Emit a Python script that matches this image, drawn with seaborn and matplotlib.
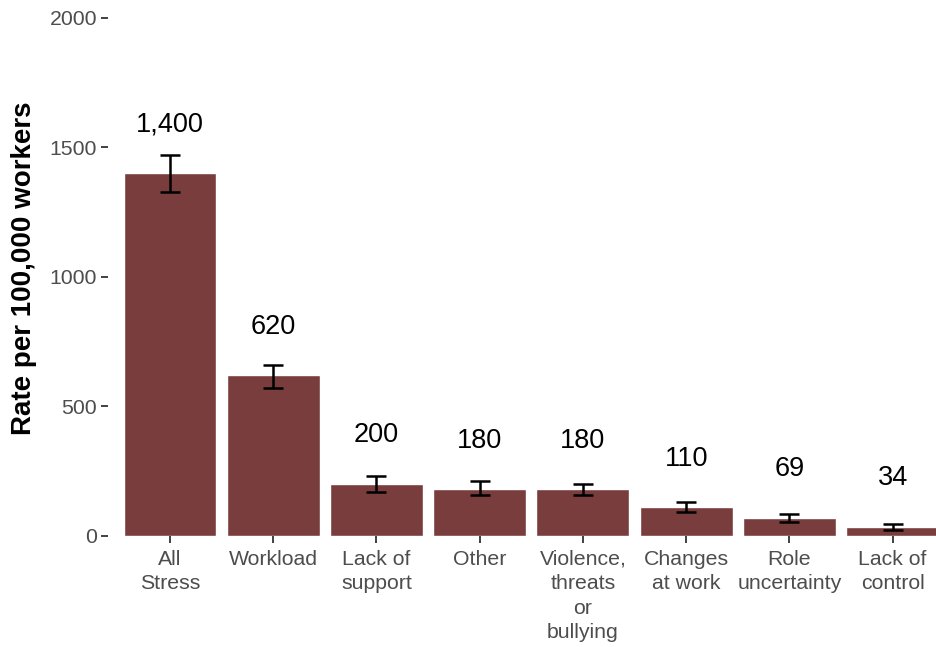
import numpy as np
import pandas as pd
import matplotlib
matplotlib.use("Agg")
import matplotlib.pyplot as plt
import seaborn as sns

categories = ["All\nStress", "Workload", "Lack of\nsupport", "Other",
              "Violence,\nthreats\nor\nbullying", "Changes\nat work",
              "Role\nuncertainty", "Lack of\ncontrol"]
rates = [1400, 620, 200, 180, 180, 110, 69, 34]
lower = [1328, 571, 170, 158, 158, 93, 54, 23]
upper = [1471, 660, 232, 212, 201, 131, 85, 46]
rate_labels = ["1,400", "620", "200", "180", "180", "110", "69", "34"]

df = pd.DataFrame({"cause": categories, "rate": rates,
                   "lo": lower, "hi": upper, "label": rate_labels})

sns.set_style("white")
plt.rcParams['font.family'] = ['Liberation Sans', 'DejaVu Sans']

fig = plt.figure(figsize=(9.36, 6.47), dpi=100)
ax = fig.add_axes([0.1154, 0.1716, 0.8846, 0.8284])

sns.barplot(data=df, x="cause", y="rate", color="#793d3d", saturation=1,
            width=0.9, errorbar=None, ax=ax)

pos = np.arange(len(df))
ax.errorbar(pos, df["rate"],
            yerr=[df["rate"] - df["lo"], df["hi"] - df["rate"]],
            fmt="none", ecolor="black", elinewidth=1.8, capsize=7, capthick=1.8)

for x, (v, lab) in enumerate(zip(df["rate"], df["label"])):
    ax.text(x, v + 188, lab, ha="center", va="center", fontsize=19.5, color="black")

ax.set_xlim(-0.6, 7.42)
ax.set_ylim(0, 2069)
ax.set_yticks([0, 500, 1000, 1500, 2000])
ax.set_xlabel("")
ax.set_ylabel("Rate per 100,000 workers", fontsize=20, fontweight="bold",
              color="black", labelpad=9)
sns.despine(ax=ax, left=True, bottom=True)
ax.tick_params(axis="both", which="both", length=5, width=1.3, color="#333333",
               labelsize=15.3, labelcolor="#4d4d4d", left=True, bottom=True, pad=3)
ax.tick_params(axis="x", pad=5)
for t in ax.get_xticklabels():
    t.set_linespacing(1.36)

fig.savefig("out.png", dpi=100)
